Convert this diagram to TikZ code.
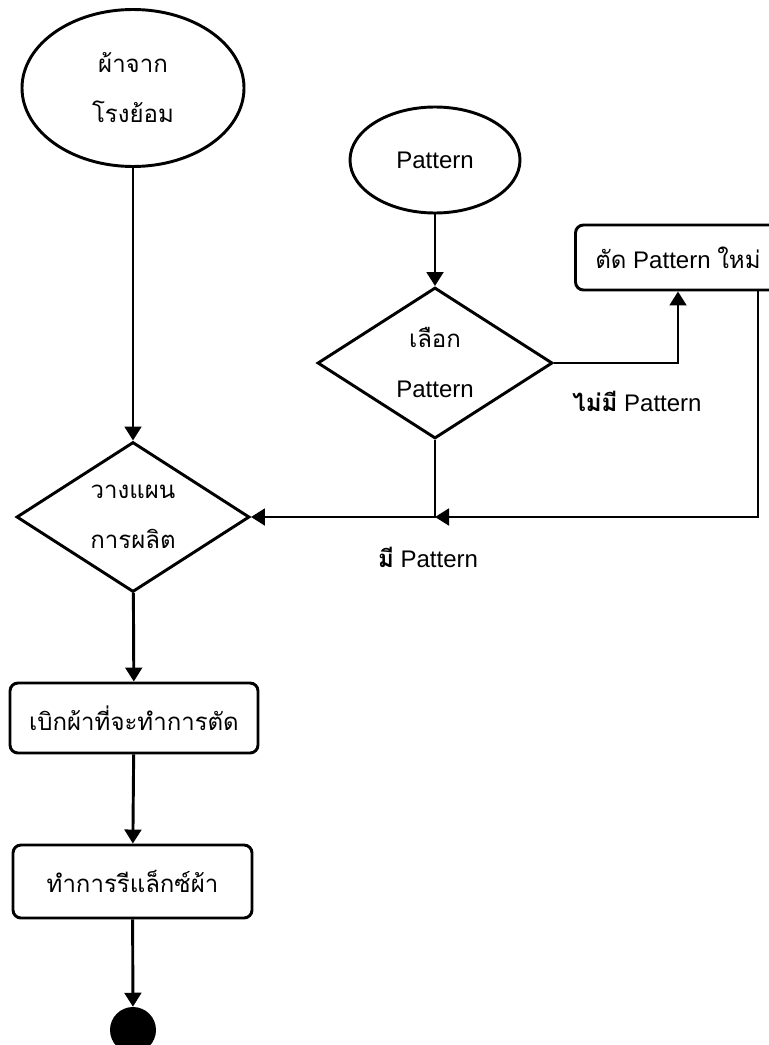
\documentclass[tikz,border=0pt]{standalone}
\usepackage{fontspec}
\setmainfont{Liberation Sans}
\newfontfamily\thaifont[Script=Thai]{Loma}
\usetikzlibrary{shapes.geometric,arrows.meta}
\newcommand{\tht}[1]{{\thaifont #1}}

\tikzset{
	flow/.style={line width=2.2pt},
	arr/.style={flow,-{Triangle[length=10.5pt,width=12.5pt]}},
	txt/.style={font=\fontsize{18}{37.5}\selectfont,align=center,inner sep=0pt},
	oval/.style={txt,ellipse,draw,flow},
	choice/.style={txt,diamond,draw,flow,aspect=1.55},
	stepbox/.style={txt,draw,flow,rounded corners=6pt},
	tag/.style={font=\fontsize{18}{22}\selectfont,inner sep=0pt}
}

\begin{document}
\begin{tikzpicture}[x=0.75pt,y=-0.75pt]
	\useasboundingbox (0,0) rectangle (768,1045);
	% start points
	\node [oval,minimum width=166.5pt,minimum height=117.75pt] (src) at (133,88) {\tht{ผ้าจาก}\\\tht{โรงย้อม}};
	\node [oval,minimum width=127.5pt,minimum height=79.5pt] (pat) at (435,160) {Pattern};
	% decisions
	\node [choice,minimum width=174.75pt,minimum height=112.5pt] (plan) at (133,517) {\tht{วางแผน}\\\tht{การผลิต}};
	\node [choice,minimum width=176.25pt,minimum height=113.25pt] (choose) at (435,363) {\tht{เลือก}\\Pattern};
	% steps
	\node [stepbox,minimum width=153.75pt,minimum height=48.75pt] (newpat) at (678,257.5) {\tht{ตัด} Pattern \tht{ใหม่}};
	\node [stepbox,minimum width=186pt,minimum height=52.5pt] (take) at (134,718) {\tht{เบิกผ้าที่จะทำการตัด}};
	\node [stepbox,minimum width=179.25pt,minimum height=54.75pt] (relax) at (132.5,881.5) {\tht{ทำการรีแล็กซ์ผ้า}};
	\node [circle,fill=black,minimum size=34.5pt,inner sep=0pt] (stop) at (133,1030) {};

	\coordinate (join) at (choose.south |- plan.east);
	\coordinate (back) at ([xshift=-18pt]newpat.south east);

	\draw [arr] (src) -- (plan);
	\draw [arr] (pat) -- (choose);
	\draw [arr] (choose.east) -| (newpat.south);
	\draw [arr] (back) |- (join);
	\draw [arr] (choose.south) -- (join) -- (plan.east);
	\draw [arr] (plan) -- (take);
	\draw [arr] (take) -- (relax);
	\draw [arr] (relax) -- (stop);

	\node [tag] (nolabel) at (637,401) {\tht{\bfseries ไม่มี} Pattern};
	\node [tag] (yeslabel) at (428,557) {\tht{\bfseries มี} Pattern};
\end{tikzpicture}
\end{document}
